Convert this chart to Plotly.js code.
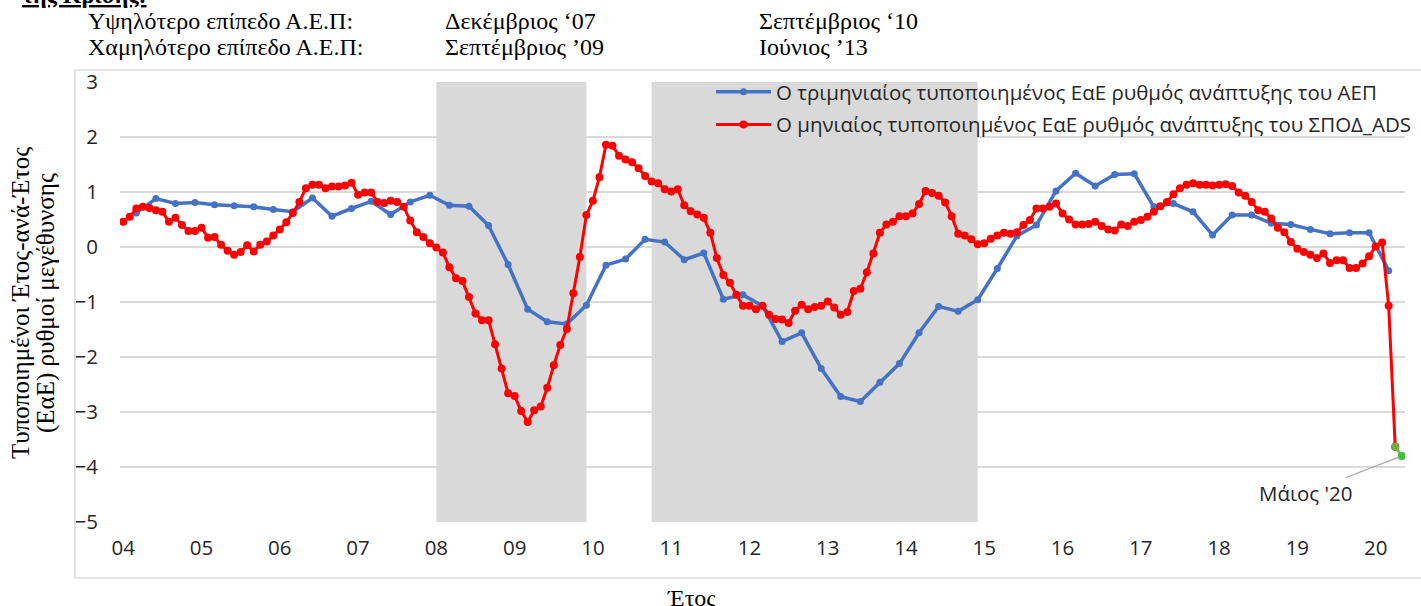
<!DOCTYPE html>
<html>
<head>
<meta charset="utf-8">
<script src="https://cdn.plot.ly/plotly-3.0.1.min.js"></script>
<style>html,body{margin:0;padding:0;background:#fff;}#chart{width:1421px;height:606px;}</style>
</head>
<body>
<div id="chart"></div>
<script>
// ---------------- DATA ----------------
const startYear = 2004;
const yearLabels = ['04','05','06','07','08','09','10','11','12','13','14','15','16','17','18','19','20'];

// Monthly standardized YoY growth of ΣΠΟΔ_ADS, Jan 2004 – Apr 2020
const monthlyADS = [
  0.46, 0.55, 0.70, 0.73, 0.71, 0.67, 0.64, 0.46, 0.53, 0.40, 0.29, 0.29,
  0.35, 0.17, 0.18, 0.04, -0.07, -0.14, -0.09, 0.03, -0.08, 0.04, 0.10, 0.21,
  0.32, 0.45, 0.62, 0.82, 1.07, 1.13, 1.13, 1.07, 1.10, 1.10, 1.12, 1.17,
  0.95, 0.99, 0.99, 0.82, 0.80, 0.84, 0.82, 0.73, 0.48, 0.27, 0.18, 0.07,
  -0.01, -0.10, -0.37, -0.57, -0.62, -0.91, -1.21, -1.33, -1.33, -1.77, -2.21, -2.66,
  -2.71, -2.98, -3.18, -2.97, -2.90, -2.56, -2.15, -1.78, -1.49, -0.84, -0.18, 0.58,
  0.84, 1.27, 1.86, 1.84, 1.66, 1.59, 1.54, 1.43, 1.29, 1.19, 1.16, 1.05,
  1.01, 1.05, 0.76, 0.65, 0.59, 0.53, 0.26, -0.20, -0.51, -0.65, -0.87, -1.07,
  -1.07, -1.13, -1.07, -1.23, -1.31, -1.32, -1.38, -1.16, -1.05, -1.13, -1.09, -1.07,
  -0.99, -1.10, -1.23, -1.18, -0.80, -0.76, -0.46, -0.12, 0.26, 0.41, 0.46, 0.56,
  0.56, 0.61, 0.78, 1.02, 0.98, 0.93, 0.81, 0.56, 0.24, 0.21, 0.14, 0.05,
  0.07, 0.15, 0.21, 0.26, 0.24, 0.27, 0.40, 0.49, 0.70, 0.70, 0.73, 0.79,
  0.61, 0.50, 0.41, 0.41, 0.42, 0.46, 0.38, 0.32, 0.30, 0.41, 0.38, 0.46,
  0.49, 0.55, 0.64, 0.74, 0.82, 0.96, 1.07, 1.13, 1.16, 1.13, 1.13, 1.12,
  1.13, 1.14, 1.11, 0.99, 0.93, 0.82, 0.67, 0.64, 0.52, 0.35, 0.27, 0.09,
  -0.03, -0.09, -0.14, -0.20, -0.12, -0.29, -0.24, -0.24, -0.38, -0.38, -0.30, -0.17,
  0.01, 0.08, -1.07, -3.63
];

// Latest estimates (Apr – May 2020), highlighted in green
const latestMonths = ['2020-04', '2020-05'];
const latestADS = [-3.63, -3.80];

// Quarterly standardized YoY GDP growth, 2004Q1 – 2020Q1 (plotted at quarter's last month)
const quarterlyGDP = [
  0.62, 0.88, 0.79, 0.81,
  0.77, 0.75, 0.73, 0.68,
  0.64, 0.89, 0.56, 0.70,
  0.83, 0.59, 0.82, 0.94,
  0.76, 0.74, 0.39, -0.32,
  -1.13, -1.36, -1.40, -1.06,
  -0.33, -0.22, 0.14, 0.09,
  -0.23, -0.11, -0.95, -0.87,
  -1.07, -1.72, -1.56, -2.21,
  -2.72, -2.81, -2.46, -2.12,
  -1.56, -1.08, -1.17, -0.96,
  -0.39, 0.20, 0.40, 1.02,
  1.34, 1.11, 1.32, 1.33,
  0.73, 0.79, 0.64, 0.22,
  0.58, 0.58, 0.43, 0.41,
  0.32, 0.24, 0.26, 0.26,
  -0.43
];

// Recession periods shaded (start month, end month)
const recessionStart = ['2008-01', '2010-10'];
const recessionEnd   = ['2009-12', '2014-12'];

const seriesNames = [
  'Ο τριμηνιαίος τυποποιημένος ΕαΕ ρυθμός ανάπτυξης του ΑΕΠ',
  'Ο μηνιαίος τυποποιημένος ΕαΕ ρυθμός ανάπτυξης του ΣΠΟΔ_ADS'
];
const headerRows = [
  ['Υψηλότερο επίπεδο Α.Ε.Π:', 'Δεκέμβριος ‘07', 'Σεπτέμβριος ‘10'],
  ['Χαμηλότερο επίπεδο Α.Ε.Π:', 'Σεπτέμβριος ’09', 'Ιούνιος ’13']
];
const headerTitle = 'της Κρίσης:';
const yTitleLines = ['Τυποποιημένοι Έτος-ανά-Έτος', '(ΕαΕ) ρυθμοί μεγέθυνσης'];
const xTitle = 'Έτος';
const calloutLabel = "Μάιος '20";

// ---------------- HELPERS ----------------
function monthIndex(s) { const [y, m] = s.split('-').map(Number); return (y - startYear) * 12 + (m - 1); }

const xMonthly = monthlyADS.map((_, i) => i);
const xQuarterly = quarterlyGDP.map((_, i) => i * 3 + 2);
const xLatest = latestMonths.map(monthIndex);
const tickVals = yearLabels.map((_, i) => i * 12);

// ---------------- LAYOUT GEOMETRY ----------------
const W = 1421, H = 606;
const M = {l: 120, r: 16, t: 82, b: 84, autoexpand: false};
const PW = W - M.l - M.r, PH = H - M.t - M.b;
const px = x => (x - M.l) / PW;      // pixel -> paper x
const py = y => (H - M.b - y) / PH;  // pixel -> paper y

const serif = 'Liberation Serif, DejaVu Serif, serif';
const sans = 'Open Sans, Noto Sans, sans-serif';
const textCol = '#262626';

const traces = [
  {
    x: xQuarterly, y: quarterlyGDP, name: seriesNames[0], type: 'scatter', mode: 'lines+markers',
    legendgroup: 'q', line: {color: '#4472C4', width: 3.5}, marker: {color: '#4472C4', size: 7}
  },
  {
    x: xMonthly, y: monthlyADS, name: seriesNames[1], type: 'scatter', mode: 'lines+markers',
    legendgroup: 'm', line: {color: '#FF0000', width: 3}, marker: {color: '#FF0000', size: 8}
  },
  {
    x: xLatest, y: latestADS, showlegend: false, type: 'scatter', mode: 'lines+markers',
    legendgroup: 'm', line: {color: '#5BBF45', width: 2.5}, marker: {color: ['#70AD47', '#3FC23A'], size: 8}
  }
];

const shapes = recessionStart.map((s, i) => ({
  type: 'rect', layer: 'between', xref: 'x', yref: 'paper',
  x0: monthIndex(s), x1: monthIndex(recessionEnd[i]), y0: 0, y1: 1,
  fillcolor: '#D9D9D9', line: {width: 0}
}));
shapes.push({
  type: 'rect', xref: 'paper', yref: 'paper', layer: 'above',
  x0: px(75), x1: px(1430), y0: py(578), y1: py(70),
  line: {color: '#D9D9D9', width: 1.5}, fillcolor: 'rgba(0,0,0,0)'
});

const annotations = [];
annotations.push({
  xref: 'paper', yref: 'paper', x: px(20), y: py(10), xanchor: 'left', yanchor: 'bottom',
  text: '<b><u>' + headerTitle + '</u></b>', showarrow: false,
  font: {family: serif, size: 24, color: '#000'}
});
const colX = [86, 443, 757];
headerRows.forEach((row, r) => {
  row.forEach((t, c) => {
    annotations.push({
      xref: 'paper', yref: 'paper', x: px(colX[c]), y: py(21 + r * 26), xanchor: 'left', yanchor: 'middle',
      text: t, showarrow: false, font: {family: serif, size: 24, color: '#000'}
    });
  });
});
yTitleLines.forEach((t, i) => {
  annotations.push({
    xref: 'paper', yref: 'paper', x: px(20 + i * 26), y: py(303), xanchor: 'center', yanchor: 'middle',
    text: t, textangle: -90, showarrow: false, font: {family: serif, size: 25, color: '#000'}
  });
});
annotations.push({
  xref: 'paper', yref: 'paper', x: px(691), y: py(598), xanchor: 'center', yanchor: 'middle',
  text: xTitle, showarrow: false, font: {family: serif, size: 24, color: '#000'}
});
annotations.push({
  x: xLatest[1], y: latestADS[1], xref: 'x', yref: 'y',
  text: calloutLabel, showarrow: true, arrowhead: 0, arrowwidth: 1.3, arrowcolor: '#A6A6A6',
  ax: -96, ay: 37, standoff: 3,
  font: {family: sans, size: 20.5, color: textCol}
});

const layout = {
  width: W, height: H, margin: M,
  paper_bgcolor: '#fff', plot_bgcolor: '#fff',
  showlegend: true,
  legend: {
    x: px(711), y: py(72), xanchor: 'left', yanchor: 'top',
    bgcolor: 'rgba(0,0,0,0)', font: {family: sans, size: 20.5, color: textCol},
    traceorder: 'grouped', tracegroupgap: 3, itemwidth: 55
  },
  xaxis: {
    range: [-0.5, 196.5], tickvals: tickVals, ticktext: yearLabels,
    showgrid: false, zeroline: false, showline: false, ticks: '',
    tickfont: {family: sans, size: 20.5, color: textCol}, ticklabelstandoff: 11
  },
  yaxis: {
    range: [-5, 3], dtick: 1, tick0: -5, showgrid: true, gridcolor: '#D9D9D9', gridwidth: 1.3,
    zeroline: true, zerolinecolor: '#D9D9D9', zerolinewidth: 1.3, showline: false, ticks: '',
    tickfont: {family: sans, size: 20.5, color: textCol}, ticklabelstandoff: 21
  },
  shapes: shapes,
  annotations: annotations
};

Plotly.newPlot('chart', traces, layout, {displayModeBar: false, staticPlot: true});
</script>
</body>
</html>
